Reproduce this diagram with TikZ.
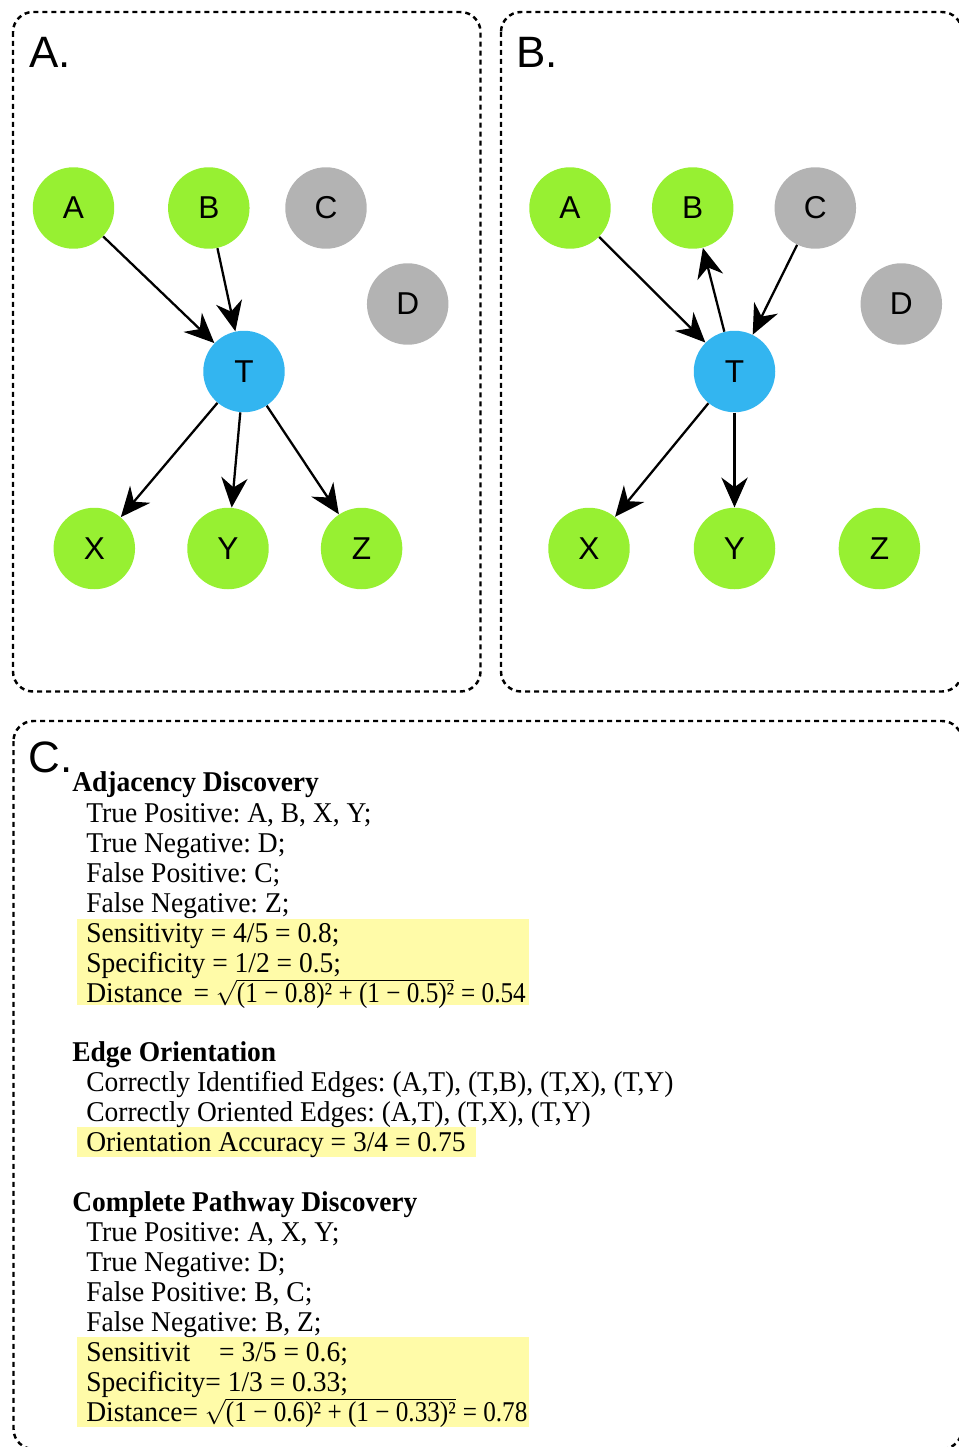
\documentclass[tikz,border=0pt]{standalone}
\usepackage{fontspec}
\setmainfont{Liberation Serif}
\newfontfamily\labelfont{Liberation Sans}
\newfontfamily\bodyfont[FakeStretch=0.96]{Liberation Serif}
\newfontfamily\eqfont[FakeStretch=0.88]{Liberation Serif}
\usetikzlibrary{arrows.meta}
\definecolor{nodegreen}{RGB}{151,240,50}
\definecolor{nodeblue}{RGB}{51,181,240}
\definecolor{nodegray}{RGB}{179,179,179}
\definecolor{hlyellow}{RGB}{255,251,168}

\tikzset{
  panelbox/.style={line width=1.4pt, dash pattern=on 0.1cm off 0.08cm, rounded corners=0.4cm},
  panellabel/.style={anchor=base west, inner sep=0pt, font=\labelfont\fontsize{25}{25}\selectfont},
  vertex/.style={circle, minimum size=1.63cm, inner sep=0pt, font=\labelfont\fontsize{18}{18}\selectfont},
  present/.style={vertex, fill=nodegreen},
  target/.style={vertex, fill=nodeblue},
  absent/.style={vertex, fill=nodegray},
  edge/.style={line width=1.3pt, -{Stealth[length=17pt, width=15pt, inset=5.5pt]}},
  body/.style={anchor=base west, inner sep=0pt, font=\bodyfont\frenchspacing\fontsize{16.3}{19}\selectfont},
  head/.style={body, font=\bodyfont\frenchspacing\bfseries\fontsize{16.3}{19}\selectfont}
}

% small radical over text-size content
\newcommand{\rootof}[1]{\smash{\fontsize{13.5}{14}\selectfont
  \(\sqrt{\vphantom{1}\smash{\mbox{\eqfont\fontsize{16.3}{19}\selectfont #1}}}\)}}

\begin{document}
\begin{tikzpicture}[x=0.02cm, y=-0.02cm]
  \path[use as bounding box] (0,0) rectangle (959,1447);
  \clip (0,0) rectangle (959,1447);

  % panel frames
  \draw[panelbox] (13,12) rectangle (480.5,691.5);
  \draw[panelbox] (501,12) rectangle (962,691.5);
  \draw[panelbox] (13.5,721) rectangle (962,1449);

  \node[panellabel] (labA) at (29,67) {A.};
  \node[panellabel] (labB) at (516,67) {B.};
  \node[panellabel] (labC) at (28,772) {C.};

  % A. true pathway
  \node[present] (aA) at (73.5,208) {A};
  \node[present] (aB) at (208.8,208) {B};
  \node[absent]  (aC) at (326,208) {C};
  \node[absent]  (aD) at (407.7,304) {D};
  \node[target]  (aT) at (244,371.5) {T};
  \node[present] (aX) at (94.3,548.5) {X};
  \node[present] (aY) at (228,548.5) {Y};
  \node[present] (aZ) at (361.6,548.5) {Z};

  \draw[edge] (aA) -- (aT);
  \draw[edge] (aB) -- (aT);
  \draw[edge] (aT) -- (aX);
  \draw[edge] (aT) -- (aY);
  \draw[edge] (aT) -- (aZ);

  % B. discovered pathway
  \node[present] (bA) at (570,208) {A};
  \node[present] (bB) at (692.7,208) {B};
  \node[absent]  (bC) at (815.3,208) {C};
  \node[absent]  (bD) at (901.3,304) {D};
  \node[target]  (bT) at (734.5,371.5) {T};
  \node[present] (bX) at (589,548.5) {X};
  \node[present] (bY) at (734.5,548.5) {Y};
  \node[present] (bZ) at (879.4,548.5) {Z};

  \draw[edge] (bA) -- (bT);
  \draw[edge] (bT) -- (bB);
  \draw[edge] (bC) -- (bT);
  \draw[edge] (bT) -- (bX);
  \draw[edge] (bT) -- (bY);

  % C. metrics
  \fill[hlyellow] (77,919) rectangle (529,1005);
  \fill[hlyellow] (77,1127) rectangle (476,1157);
  \fill[hlyellow] (77,1337) rectangle (529,1427);

  \node[head] (adjhead) at (72,791) {Adjacency Discovery};
  \node[body] (adjtp) at (86,822) {True Positive: A, B, X, Y;};
  \node[body] (adjtn) at (86,852) {True Negative: D;};
  \node[body] (adjfp) at (86,882) {False Positive: C;};
  \node[body] (adjfn) at (86,912) {False Negative: Z;};
  \node[body] (adjsens) at (86,942) {Sensitivity = 4/5 = 0.8;};
  \node[body] (adjspec) at (86,972) {Specificity = 1/2 = 0.5;};
  \node[body] (adjdist) at (86,1002)
    {Distance\hspace{0.22cm}= \rootof{(1 − 0.8)² + (1 − 0.5)²} {\eqfont = 0.54}};

  \node[head] (orihead) at (72,1061) {Edge Orientation};
  \node[body] (oriid) at (86,1091) {Correctly Identified Edges: (A,T), (T,B), (T,X), (T,Y)};
  \node[body] (oriok) at (86,1121) {Correctly Oriented Edges: (A,T), (T,X), (T,Y)};
  \node[body] (oriacc) at (86,1151) {Orientation Accuracy = 3/4 = 0.75};

  \node[head] (pathhead) at (72,1211) {Complete Pathway Discovery};
  \node[body] (pathtp) at (86,1241) {True Positive: A, X, Y;};
  \node[body] (pathtn) at (86,1271) {True Negative: D;};
  \node[body] (pathfp) at (86,1301) {False Positive: B, C;};
  \node[body] (pathfn) at (86,1331) {False Negative: B, Z;};
  \node[body] (pathsens) at (86,1361) {Sensitivit\hspace{0.58cm}= 3/5 = 0.6;};
  \node[body] (pathspec) at (86,1391) {Specificity= 1/3 = 0.33;};
  \node[body] (pathdist) at (86,1421)
    {Distance= \rootof{(1 − 0.6)² + (1 − 0.33)²} {\eqfont = 0.78}};
\end{tikzpicture}
\end{document}
